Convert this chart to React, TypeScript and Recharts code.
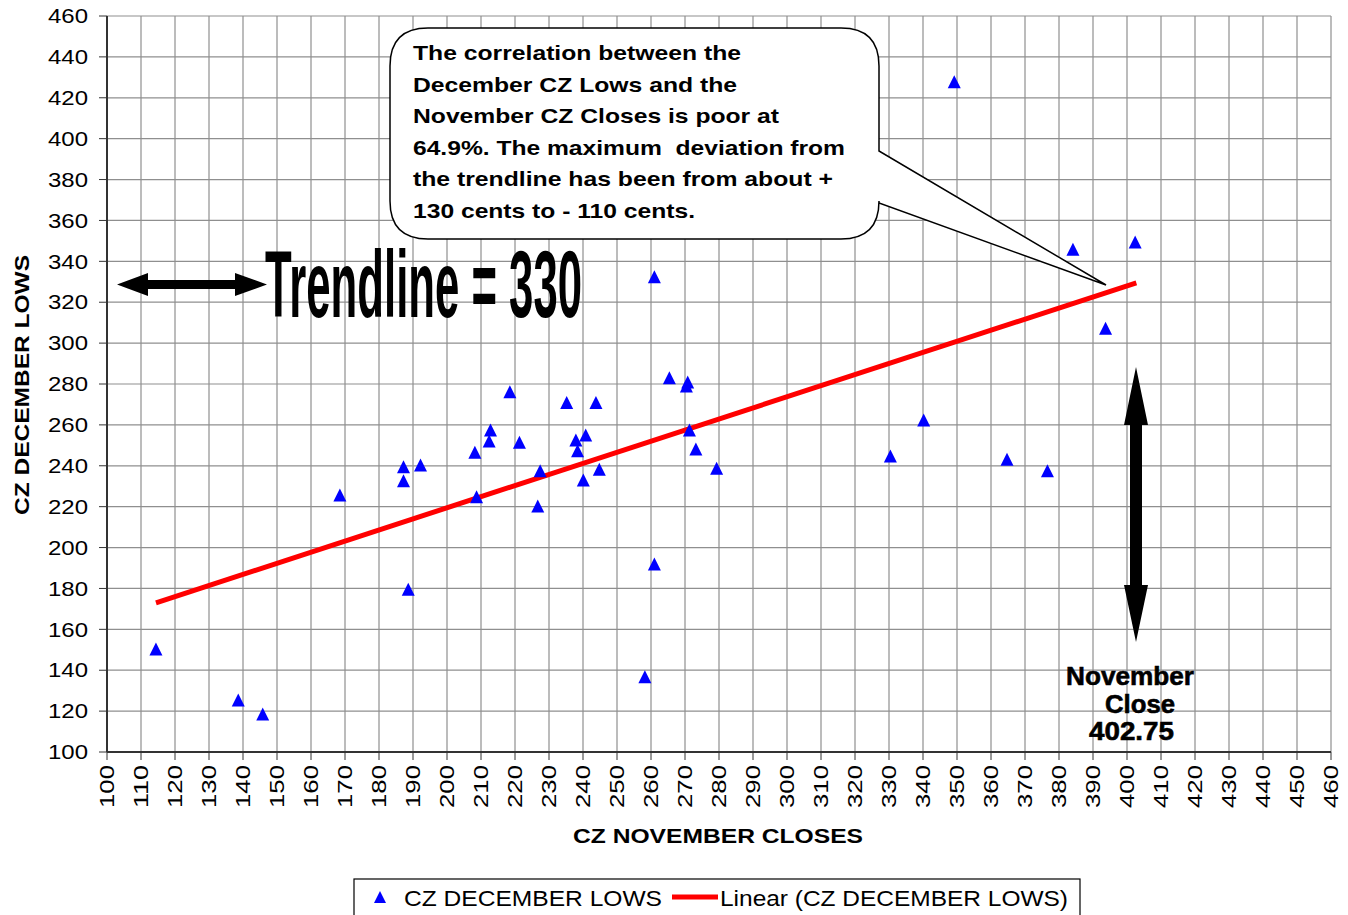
import React from 'react';
import { ScatterChart, Scatter, XAxis, YAxis, CartesianGrid } from 'recharts';

// CZ November closes (x) and December lows (y)
const novCloses = [
  114.4, 138.6, 145.8, 168.5, 187.2, 187.2, 192.2, 188.6, 261.0, 265.4,
  270.8, 270.4, 218.5, 235.2, 243.8, 212.8, 212.4, 208.2, 221.3, 237.9,
  240.8, 238.4, 271.3, 273.2, 279.3, 227.4, 244.8, 240.1, 208.7, 226.7,
  261.0, 258.2, 349.2, 384.1, 402.4, 393.7, 340.2, 330.4, 364.7, 376.6,
];
const decLows = [
  150.4, 125.4, 118.6, 225.7, 239.5, 232.7, 240.4, 179.6, 332.5, 283.1,
  281.0, 279.0, 276.2, 270.9, 270.9, 257.5, 252.1, 246.6, 251.5, 252.6,
  255.1, 247.4, 257.5, 248.2, 238.8, 237.6, 238.3, 233.0, 224.9, 220.3,
  192.0, 136.8, 427.9, 345.9, 349.5, 307.3, 262.4, 244.8, 243.2, 237.6,
];

// linear trendline end points
const trendX = [114.4, 402.75];
const trendY = [173, 329.5];

const xTicks = [
  100, 110, 120, 130, 140, 150, 160, 170, 180, 190, 200, 210, 220, 230, 240, 250,
  260, 270, 280, 290, 300, 310, 320, 330, 340, 350, 360, 370, 380, 390, 400, 410,
  420, 430, 440, 450, 460,
];
const yTicks = [100, 120, 140, 160, 180, 200, 220, 240, 260, 280, 300, 320, 340, 360, 380, 400, 420, 440, 460];

const noteLines = [
  'The correlation between the',
  'December CZ Lows and the',
  'November CZ Closes is poor at',
  '64.9%. The maximum  deviation from',
  'the trendline has been from about +',
  '130 cents to - 110 cents.',
];
const noteWidths = [328, 324, 366, 432, 420, 282];

const points = novCloses.map((x, i) => ({ x, y: decLows[i] }));
const trend = trendX.map((x, i) => ({ x, y: trendY[i] }));

const FONT = "'Liberation Sans', Arial, sans-serif";

const Tri = (props: any) => {
  const { cx, cy } = props;
  if (cx == null || cy == null) return null;
  return <polygon points={`${cx},${cy - 6.5} ${cx + 6.5},${cy + 6.5} ${cx - 6.5},${cy + 6.5}`} fill="#0000ff" />;
};

const XTick = (props: any) => {
  const { x, y, payload } = props;
  return (
    <text
      transform={`translate(${x},${y + 3}) rotate(-90)`}
      textAnchor="end"
      dy="0.36em"
      fontSize={20}
      fontFamily={FONT}
      fill="#000"
      textLength={43}
      lengthAdjust="spacingAndGlyphs"
    >
      {payload.value}
    </text>
  );
};

const YTick = (props: any) => {
  const { x, y, payload } = props;
  return (
    <text
      x={x - 9}
      y={y}
      textAnchor="end"
      dy="0.36em"
      fontSize={20}
      fontFamily={FONT}
      fill="#000"
      textLength={40}
      lengthAdjust="spacingAndGlyphs"
    >
      {payload.value}
    </text>
  );
};

function Overlay() {
  return (
    <svg
      width={1348}
      height={915}
      style={{ position: 'absolute', left: 0, top: 0, pointerEvents: 'none' }}
    >
      {/* axis titles */}
      <text
        transform="translate(29,385) rotate(-90)"
        textAnchor="middle"
        fontSize={21}
        fontWeight="bold"
        fontFamily={FONT}
        textLength={260}
        lengthAdjust="spacingAndGlyphs"
      >
        CZ DECEMBER LOWS
      </text>
      <text x={573} y={843} fontSize={21} fontWeight="bold" fontFamily={FONT} textLength={290} lengthAdjust="spacingAndGlyphs">
        CZ NOVEMBER CLOSES
      </text>

      {/* callout */}
      <path
        d="M428,28 H841 Q879,28 879,66 V151 L1106,285 L879,203 V201 Q879,239 841,239 H428 Q390,239 390,201 V66 Q390,28 428,28 Z"
        fill="#fff"
        stroke="#000"
        strokeWidth={1.5}
      />
      {noteLines.map((t, i) => (
        <text
          key={i}
          x={413}
          y={60 + i * 31.6}
          fontSize={21}
          fontWeight="bold"
          fontFamily={FONT}
          textLength={noteWidths[i]}
          lengthAdjust="spacingAndGlyphs"
          style={{ whiteSpace: 'pre' }}
        >
          {t}
        </text>
      ))}

      {/* trendline label */}
      <polygon
        points="117,284.5 148,273 148,280 235,280 235,273 267,284.5 235,296 235,289 148,289 148,296"
        fill="#000"
      />
      <text
        x={265}
        y={317}
        fontSize={94}
        fontWeight="bold"
        fontFamily="'Liberation Sans Narrow', 'Liberation Sans', Arial, sans-serif"
        textLength={317}
        lengthAdjust="spacingAndGlyphs"
      >
        Trendline = 330
      </text>

      {/* November close marker */}
      <polygon
        points="1136,367 1148,425 1142,425 1142,585 1148,585 1136,642 1124,585 1130,585 1130,425 1124,425"
        fill="#000"
      />
      <g fontSize={26} fontWeight="bold" fontFamily={FONT} stroke="#000" strokeWidth={0.6}>
        <text x={1066} y={685} textLength={128} lengthAdjust="spacingAndGlyphs">November</text>
        <text x={1105} y={713} textLength={70} lengthAdjust="spacingAndGlyphs">Close</text>
        <text x={1089} y={740} textLength={85} lengthAdjust="spacingAndGlyphs">402.75</text>
      </g>

      {/* legend */}
      <rect x={354} y={879} width={726} height={45} fill="#fff" stroke="#000" strokeWidth={1.2} />
      <polygon points="380,891 386,903 374,903" fill="#0000ff" />
      <text x={404} y={906} fontSize={22} fontFamily={FONT} textLength={258} lengthAdjust="spacingAndGlyphs">
        CZ DECEMBER LOWS
      </text>
      <line x1={672} y1={897} x2={718} y2={897} stroke="#ff0000" strokeWidth={5} />
      <text x={720} y={906} fontSize={22} fontFamily={FONT} textLength={348} lengthAdjust="spacingAndGlyphs">
        Linear (CZ DECEMBER LOWS)
      </text>
    </svg>
  );
}

export default function App() {
  return (
    <div style={{ position: 'absolute', left: 0, top: 0, width: 1348, height: 915, background: '#fff', overflow: 'hidden' }}>
      <ScatterChart width={1348} height={915} margin={{ top: 16, right: 17, bottom: 0, left: 0 }}>
        <CartesianGrid stroke="#8f8f8f" strokeWidth={1.2} />
        <XAxis
          type="number"
          dataKey="x"
          domain={[100, 460]}
          ticks={xTicks}
          interval={0}
          height={163}
          tickSize={8}
          tick={<XTick />}
          axisLine={{ stroke: '#333', strokeWidth: 2 }}
          tickLine={{ stroke: '#333' }}
          allowDataOverflow
        />
        <YAxis
          type="number"
          dataKey="y"
          domain={[100, 460]}
          ticks={yTicks}
          interval={0}
          width={107}
          tickSize={8}
          tick={<YTick />}
          axisLine={{ stroke: '#333', strokeWidth: 2 }}
          tickLine={{ stroke: '#333' }}
          allowDataOverflow
        />
        <Scatter
          name="Linear (CZ DECEMBER LOWS)"
          data={trend}
          line={{ stroke: '#ff0000', strokeWidth: 5 }}
          lineType="joint"
          shape={() => <g />}
          isAnimationActive={false}
        />
        <Scatter name="CZ DECEMBER LOWS" data={points} shape={<Tri />} isAnimationActive={false} />
      </ScatterChart>
      <Overlay />
    </div>
  );
}
